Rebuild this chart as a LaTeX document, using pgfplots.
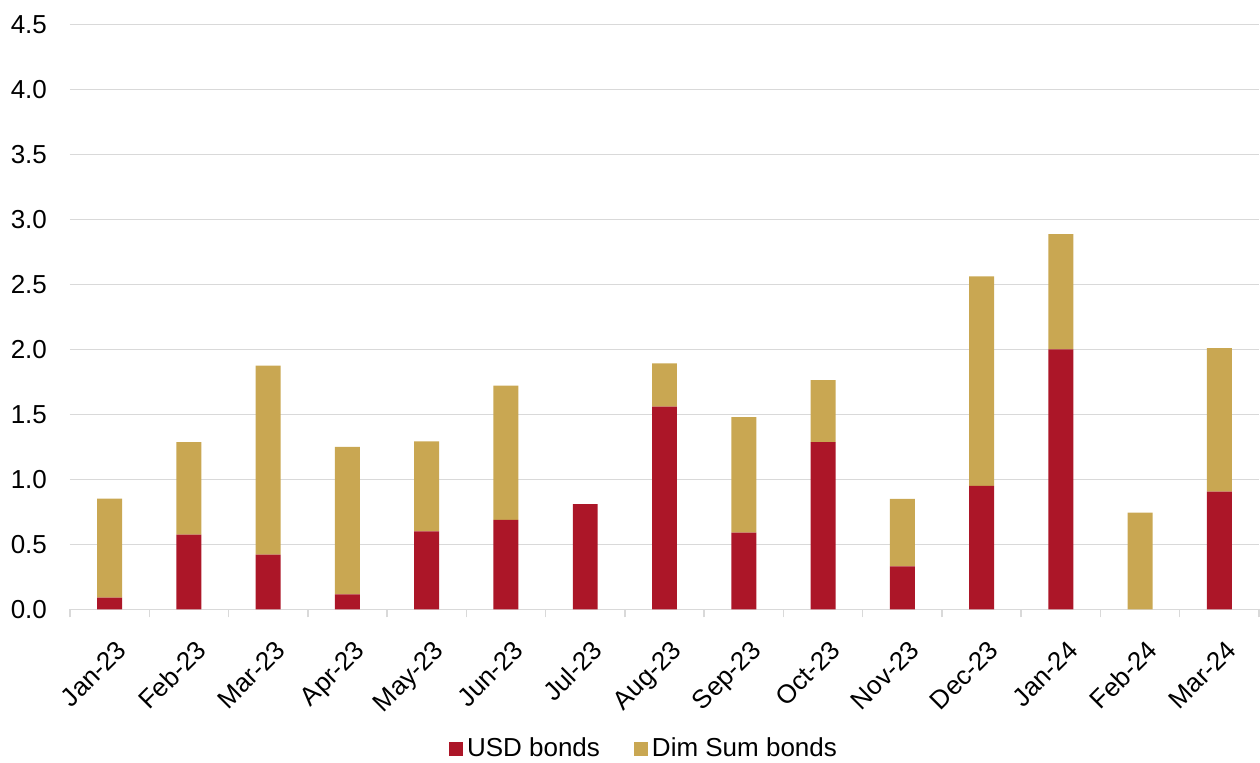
\documentclass[border=0pt]{standalone}
\usepackage{pgfplots}
\pgfplotsset{compat=1.18}
\usepackage{fontspec}
\setmainfont{Liberation Sans}
\definecolor{usdred}{HTML}{AC1628}
\definecolor{dimgold}{HTML}{C9A752}
\definecolor{gridgray}{HTML}{D9D9D9}
\begin{document}
\begin{tikzpicture}
\useasboundingbox (-35pt,-76.85pt) rectangle (595pt,304.65pt);
\begin{axis}[
  at={(0,0)}, anchor=south west,
  scale only axis,
  width=594.5pt, height=292.5pt,
  ybar stacked,
  bar width=0.315,
  xmin=-0.5, xmax=14.5,
  ymin=0, ymax=4.5,
  xtick={0,...,14},
  xticklabels={Jan-23,Feb-23,Mar-23,Apr-23,May-23,Jun-23,Jul-23,Aug-23,Sep-23,Oct-23,Nov-23,Dec-23,Jan-24,Feb-24,Mar-24},
  minor xtick={-0.5,0.5,...,14.5},
  ytick={0,0.5,...,4.5},
  yticklabel style={/pgf/number format/fixed,/pgf/number format/precision=1,/pgf/number format/fixed zerofill, xshift=-8pt},
  /pgf/number format/assume math mode=true,
  ymajorgrids,
  major grid style={gridgray, line width=0.75pt},
  axis x line*=bottom,
  axis y line*=left,
  y axis line style={draw=none},
  x axis line style={gridgray, line width=0.75pt, -},
  tick align=outside,
  major x tick style={draw=none},
  major y tick style={draw=none},
  minor x tick style={gridgray, line width=0.75pt},
  minor tick length=4pt,
  major tick length=0pt,
  ticklabel style={font=\fontsize{13}{15}\selectfont, text=black},
  xticklabel style={rotate=45, anchor=north east, xshift=-5pt, yshift=-9pt},
  legend style={at={(0.4836,-0.2388)}, anchor=center, draw=none, font=\fontsize{13}{15}\selectfont, legend columns=-1, /tikz/every even column/.append style={column sep=15pt}},
  legend image code/.code={\fill[#1] (0pt,-3.5pt) rectangle (7pt,3.5pt);},
  clip=false,
]
\addplot[fill=usdred, draw=none] coordinates {
(0,0.09) (1,0.575) (2,0.42) (3,0.115) (4,0.60) (5,0.687) (6,0.808) (7,1.558) (8,0.589) (9,1.285) (10,0.33) (11,0.95) (12,2.00) (13,0) (14,0.905)};
\addlegendentry{USD bonds}
\addplot[fill=dimgold, draw=none] coordinates {
(0,0.762) (1,0.71) (2,1.455) (3,1.135) (4,0.692) (5,1.033) (6,0) (7,0.334) (8,0.89) (9,0.477) (10,0.52) (11,1.61) (12,0.885) (13,0.743) (14,1.103)};
\addlegendentry{Dim Sum bonds}
\end{axis}
\end{tikzpicture}
\end{document}
